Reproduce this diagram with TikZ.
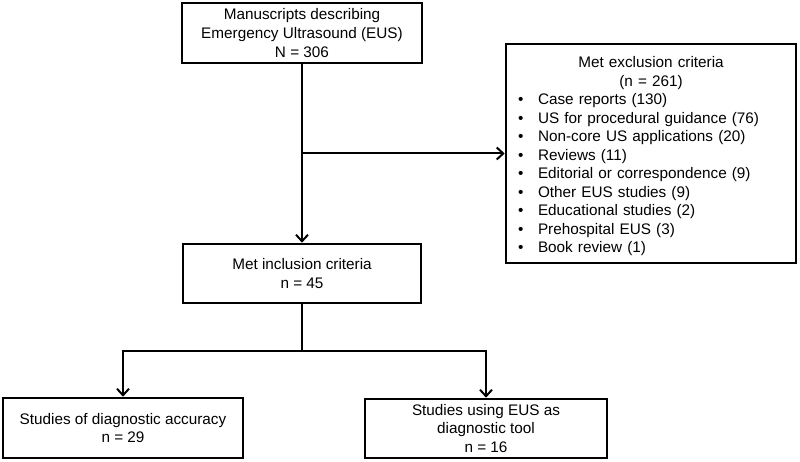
\documentclass[tikz,border=0pt]{standalone}
\usepackage{fontspec}
\setmainfont{Liberation Sans}
\usetikzlibrary{arrows.meta}
\newcommand{\bitem}[1]{\hspace*{12pt}\makebox[20pt][l]{•}#1}
\begin{document}
\begin{tikzpicture}[x=1pt,y=-1pt,
  box/.style={draw=black, line width=2.6pt, fill=white, inner sep=0pt, align=center,
    font=\fontsize{15.3}{18.5}\selectfont},
  boxtext/.style={inner sep=0pt, font=\fontsize{15.3}{18.5}\selectfont},
  conn/.style={draw=black, line width=2pt, -{Straight Barb[length=6.5pt,width=12pt,line width=2pt]}},
  plain/.style={draw=black, line width=2pt}]
\useasboundingbox (0,0) rectangle (800,462);
\node[box, minimum width=240pt, minimum height=60pt, font=\fontsize{15.3}{19.3}\selectfont] (top) at (302,33)
  {Manuscripts describing\\Emergency Ultrasound (EUS)\\N = 306};
\node[box, minimum width=290pt, minimum height=219pt] (exc) at (651,153.5) {};
\node[boxtext, text width=290pt, align=left] (exctext) at ([yshift=-3pt]exc.center)
  {\makebox[290pt]{Met exclusion criteria}\\
   \makebox[290pt]{(n = 261)}\\
   \bitem{Case reports (130)}\\
   \bitem{US for procedural guidance (76)}\\
   \bitem{Non-core US applications (20)}\\
   \bitem{Reviews (11)}\\
   \bitem{Editorial or correspondence (9)}\\
   \bitem{Other EUS studies (9)}\\
   \bitem{Educational studies (2)}\\
   \bitem{Prehospital EUS (3)}\\
   \bitem{Book review (1)}};
\node[box, minimum width=238pt, minimum height=59pt] (inc) at (302,273.5)
  {Met inclusion criteria\\n = 45};
\node[box, minimum width=240pt, minimum height=60pt] (lb) at (123,428)
  {Studies of diagnostic accuracy\\n = 29};
\node[box, minimum width=242pt, minimum height=59pt] (rb) at (486,428.5)
  {Studies using EUS as\\diagnostic tool\\n = 16};
\coordinate (br) at (top.south |- exc.west);
\coordinate (split) at (302,351);
\draw[conn] (top.south) -- (inc.north);
\draw[conn] (br) -- (exc.west);
\draw[plain] (inc.south) -- (split);
\draw[conn] (split) -| (lb.north);
\draw[conn] (split) -| (rb.north);
\end{tikzpicture}
\end{document}
